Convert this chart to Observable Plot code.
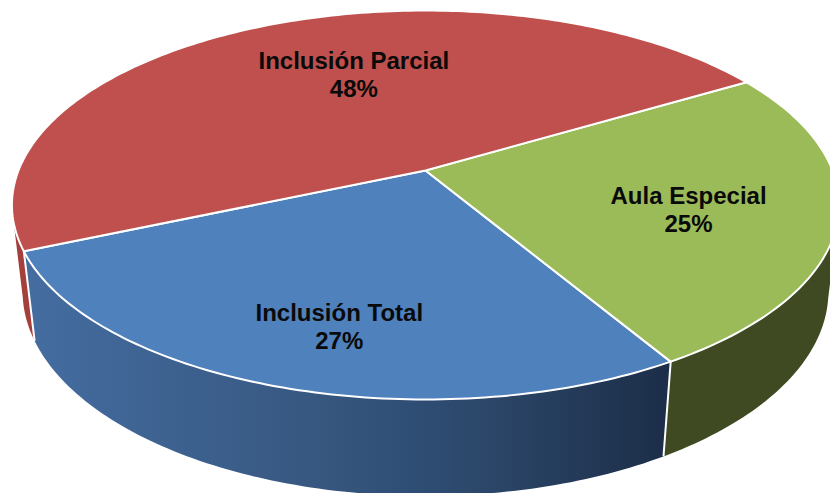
<!DOCTYPE html>
<html>
<head>
<meta charset="utf-8">
<script src="https://cdn.jsdelivr.net/npm/d3@7"></script>
<script src="https://cdn.jsdelivr.net/npm/@observablehq/plot@0.6"></script>
<style>html,body{margin:0;padding:0;background:#fff;overflow:hidden}svg{display:block}</style>
</head>
<body>
<script>
// Data
const categories = ["Inclusión Total", "Aula Especial", "Inclusión Parcial"];
const shares = [27, 25, 48];
const topColors = ["#4f81bd", "#9bbb59", "#c0504d"];
const sideColors = ["url(#blueSide)", "#3f4a22", "#a43f3c"];
const blueStops = ["#446c9f", "#3f6595", "#36567e", "#2f4e75", "#2a4465", "#1c2e49"];
const blueOffsets = [0, 0.15, 0.47, 0.6, 0.75, 1];
const labelRadius = [0.743, 0.654, 0.598];
const labelTurn = [-3.5, 3.2, 8.2];

// Pie geometry (perspective view of a short cylinder)
const W = 830, H = 493;
const cam = {cx: 425, cy: 170, a: 407, b: 158.2, c: -0.1774, d: 92, e: 0.0256};
const project = (deg, r, z) => {
  const t = deg * Math.PI / 180, X = r * Math.cos(t), Y = r * Math.sin(t);
  const w = 1 + cam.c * Y + cam.e * z;
  return {x: cam.cx + cam.a * X / w, y: (cam.cy + cam.b * Y + cam.d * z) / w};
};
const startAngle = 156.5; // slices run toward smaller screen angles
const toDeg = v => v / d3.sum(shares) * 360;
let acc = startAngle;
const slices = categories.map((name, i) => {
  const from = acc, to = acc - toDeg(shares[i]);
  acc = to;
  return {i, name, share: shares[i], from, to, mid: (from + to) / 2};
});
const arc = (from, to, z) => {
  const n = Math.max(2, Math.ceil(Math.abs(to - from)));
  return d3.range(n + 1).map(k => project(from + (to - from) * k / n, 1, z));
};

// Top faces
const topFaces = slices.flatMap(s => [project(0, 0, 0), ...arc(s.from, s.to, 0)].map(p => ({...p, key: s.i})));
// Visible sides: the blue and green run along the front, the red only shows a sliver at the left
const sideRange = [[slices[0].from, slices[0].to], [slices[1].from, 12], [startAngle + 12, startAngle]];
const sideFaces = sideRange.flatMap(([a, b], i) => [...arc(a, b, 0), ...arc(b, a, 1)].map(p => ({...p, key: i})));
const edges = [startAngle, slices[0].to].map(a => ({p: project(a, 1, 0), q: project(a, 1, 1)}));
const labels = slices.map(s => {
  const p = project(s.mid + labelTurn[s.i], labelRadius[s.i], 0);
  return {...p, text: `${s.name}\n${s.share}%`};
});

const x0 = project(startAngle, 1, 1).x, x1 = project(slices[0].to, 1, 1).x;
const defs = () => {
  const ns = "http://www.w3.org/2000/svg";
  const d = document.createElementNS(ns, "defs");
  const g = document.createElementNS(ns, "linearGradient");
  g.setAttribute("id", "blueSide");
  g.setAttribute("gradientUnits", "userSpaceOnUse");
  g.setAttribute("x1", x0); g.setAttribute("x2", x1);
  g.setAttribute("y1", 0); g.setAttribute("y2", 0);
  blueStops.forEach((c, i) => {
    const s = document.createElementNS(ns, "stop");
    s.setAttribute("offset", blueOffsets[i]);
    s.setAttribute("stop-color", c);
    g.appendChild(s);
  });
  d.appendChild(g);
  return d;
};

const chart = Plot.plot({
  width: W, height: H,
  margin: 0,
  style: {background: "#fff"},
  x: {type: "identity", axis: null},
  y: {type: "identity", axis: null},
  marks: [
    defs,
    Plot.line(sideFaces, {x: "x", y: "y", z: "key", fill: d => sideColors[d.key], stroke: "none", curve: "linear"}),
    Plot.link(edges, {x1: d => d.p.x, y1: d => d.p.y, x2: d => d.q.x, y2: d => d.q.y, stroke: "#fff", strokeWidth: 2}),
    Plot.line(topFaces, {x: "x", y: "y", z: "key", fill: d => topColors[d.key], stroke: "#fff", strokeWidth: 2, strokeLinejoin: "round", curve: "linear",
      render: (index, scales, values, dims, ctx, next) => {
        const g = next(index, scales, values, dims, ctx);
        g.querySelectorAll("path").forEach(p => p.setAttribute("d", p.getAttribute("d") + "Z"));
        return g;
      }}),
    Plot.text(labels, {x: "x", y: "y", text: "text", fill: "#0a0a0a", fontSize: 24, fontWeight: 700, fontFamily: "Liberation Sans, Arial, sans-serif", lineHeight: 1.17, textAnchor: "middle", lineAnchor: "middle"})
  ]
});
document.body.appendChild(chart);
</script>
</body>
</html>
